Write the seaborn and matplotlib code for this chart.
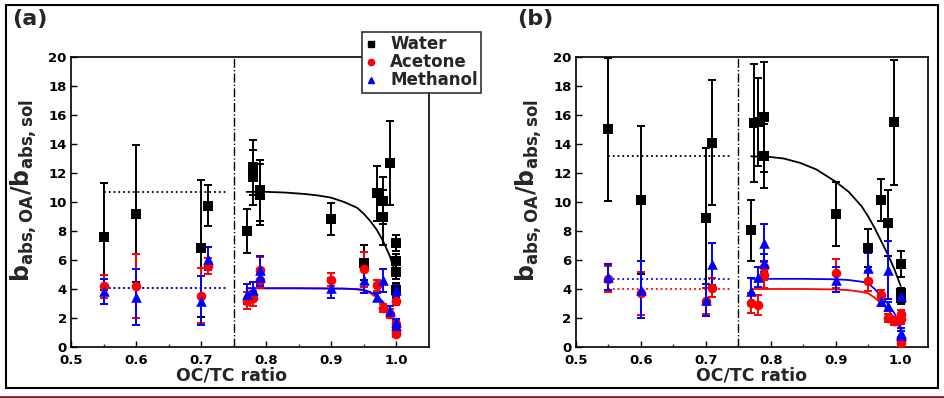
import numpy as np
import pandas as pd
import matplotlib
matplotlib.use("Agg")
import matplotlib.pyplot as plt
from matplotlib.lines import Line2D
from matplotlib.patches import Rectangle
import seaborn as sns

# ---------------- data ----------------
# panel (a)
water_a_x = [0.55, 0.60, 0.70, 0.71, 0.77, 0.78, 0.78, 0.79, 0.79, 0.90, 0.95, 0.97, 0.98, 0.98, 0.99, 1.00, 1.00, 1.00, 1.00]
water_a_y = [7.6, 9.2, 6.8, 9.75, 8.0, 12.4, 11.7, 10.8, 10.5, 8.8, 5.8, 10.6, 10.1, 8.95, 12.7, 7.2, 5.9, 5.2, 3.9]
water_a_e = [3.7, 4.7, 4.75, 1.4, 1.5, 1.9, 1.9, 2.1, 2.1, 1.1, 1.2, 1.9, 1.6, 1.9, 2.9, 0.55, 0.5, 0.5, 0.5]

acet_a_x = [0.55, 0.60, 0.70, 0.71, 0.77, 0.78, 0.79, 0.79, 0.90, 0.95, 0.97, 0.98, 0.99, 1.00, 1.00, 1.00, 1.00]
acet_a_y = [4.2, 4.2, 3.55, 5.6, 3.2, 3.35, 5.3, 4.6, 4.65, 5.35, 4.25, 2.7, 2.3, 3.2, 1.6, 1.05, 0.9]
acet_a_e = [0.8, 2.2, 1.9, 0.55, 0.6, 0.5, 0.9, 0.5, 0.45, 1.2, 0.4, 0.3, 0.3, 0.3, 0.2, 0.2, 0.2]

meth_a_x = [0.55, 0.60, 0.70, 0.71, 0.77, 0.78, 0.79, 0.79, 0.90, 0.95, 0.97, 0.98, 0.99, 1.00, 1.00, 1.00]
meth_a_y = [3.85, 3.45, 3.2, 6.1, 3.65, 3.9, 5.3, 4.8, 4.05, 4.6, 3.45, 4.6, 2.5, 3.9, 1.7, 1.5]
meth_a_e = [0.85, 1.95, 1.7, 0.8, 0.7, 0.6, 0.95, 0.6, 0.7, 0.9, 0.3, 0.8, 0.3, 0.35, 0.2, 0.2]

fit_water_a_x = [0.77, 0.80, 0.83, 0.86, 0.88, 0.90, 0.92, 0.94, 0.95, 0.96, 0.97, 0.98, 0.99, 1.00]
fit_water_a_y = [10.7, 10.7, 10.65, 10.55, 10.45, 10.3, 10.0, 9.6, 9.2, 8.7, 8.1, 7.3, 6.3, 5.0]
fit_acet_a_x = [0.77, 0.85, 0.92, 0.94, 0.95, 0.96, 0.97, 0.98, 0.99, 1.00]
fit_acet_a_y = [4.05, 4.05, 4.02, 3.97, 3.9, 3.72, 3.42, 2.92, 2.3, 1.5]
fit_meth_a_x = [0.77, 0.85, 0.92, 0.94, 0.95, 0.96, 0.97, 0.98, 0.99, 1.00]
fit_meth_a_y = [4.05, 4.05, 4.03, 3.99, 3.95, 3.8, 3.55, 3.1, 2.5, 1.6]
mean_a = {"Water": 10.7, "Acetone": 4.05, "Methanol": 4.05}

# panel (b)
water_b_x = [0.55, 0.60, 0.70, 0.71, 0.77, 0.775, 0.78, 0.79, 0.79, 0.90, 0.95, 0.97, 0.98, 0.99, 1.00, 1.00, 1.00]
water_b_y = [15.0, 10.15, 8.9, 14.1, 8.05, 15.45, 15.5, 15.85, 13.15, 9.15, 6.85, 10.15, 8.55, 15.5, 5.75, 3.7, 3.4]
water_b_e = [4.9, 5.1, 4.85, 4.3, 2.1, 4.1, 3.05, 3.8, 2.2, 2.2, 1.3, 1.45, 2.3, 4.3, 0.9, 0.4, 0.4]

acet_b_x = [0.55, 0.60, 0.70, 0.71, 0.77, 0.78, 0.79, 0.79, 0.90, 0.95, 0.97, 0.98, 0.99, 1.00, 1.00, 1.00, 1.00]
acet_b_y = [4.7, 3.7, 3.2, 4.1, 3.05, 2.9, 5.5, 4.95, 5.1, 4.55, 3.6, 2.0, 1.8, 2.25, 1.9, 0.5, 0.3]
acet_b_e = [0.9, 1.5, 0.9, 0.65, 0.7, 0.7, 0.9, 0.9, 1.0, 0.7, 0.3, 0.3, 0.3, 0.3, 0.3, 0.2, 0.2]

meth_b_x = [0.55, 0.60, 0.70, 0.71, 0.77, 0.78, 0.79, 0.79, 0.90, 0.95, 0.97, 0.98, 0.98, 1.00, 1.00, 1.00]
meth_b_y = [4.8, 3.95, 3.25, 5.75, 3.85, 4.85, 7.2, 5.8, 4.65, 5.45, 3.15, 5.3, 2.8, 3.5, 1.0, 0.8]
meth_b_e = [0.9, 1.95, 1.1, 1.45, 0.9, 0.7, 1.25, 0.6, 0.85, 1.0, 0.3, 2.0, 0.3, 0.4, 0.3, 0.3]

fit_water_b_x = [0.77, 0.80, 0.82, 0.845, 0.87, 0.90, 0.92, 0.94, 0.95, 0.96, 0.97, 0.98, 0.99, 1.00]
fit_water_b_y = [13.15, 13.1, 13.0, 12.7, 12.25, 11.4, 10.7, 9.7, 9.0, 8.2, 7.3, 6.4, 5.4, 4.2]
fit_acet_b_x = [0.77, 0.85, 0.90, 0.92, 0.94, 0.95, 0.96, 0.97, 0.98, 0.99, 1.00]
fit_acet_b_y = [4.0, 4.0, 3.97, 3.92, 3.8, 3.7, 3.4, 3.0, 2.6, 2.0, 1.2]
fit_meth_b_x = [0.77, 0.85, 0.90, 0.92, 0.94, 0.95, 0.96, 0.97, 0.98, 0.99, 1.00]
fit_meth_b_y = [4.7, 4.7, 4.67, 4.62, 4.5, 4.4, 4.0, 3.5, 3.0, 2.35, 1.4]
mean_b = {"Water": 13.2, "Acetone": 4.0, "Methanol": 4.7}

solvents = ["Water", "Acetone", "Methanol"]
colors = {"Water": "black", "Acetone": "#ff0000", "Methanol": "#0000ff"}
markers = {"Water": "s", "Acetone": "o", "Methanol": "^"}

# ---------------- style ----------------
sns.set_theme(style="ticks")
plt.rcParams["font.family"] = ["DejaVu Sans"]
plt.rcParams["font.weight"] = "bold"
plt.rcParams["mathtext.fontset"] = "dejavusans"
plt.rcParams["mathtext.default"] = "bf"

fig = plt.figure(figsize=(9.44, 3.98), dpi=100)
ax_a = fig.add_axes([71 / 944, 51 / 398, (429.3 - 71) / 944, 290 / 398])
ax_b = fig.add_axes([575.7 / 944, 51 / 398, (928 - 575.7) / 944, 290 / 398])

panels = [
    (ax_a, 1.051, [(water_a_x, water_a_y, water_a_e), (acet_a_x, acet_a_y, acet_a_e), (meth_a_x, meth_a_y, meth_a_e)],
     [(fit_water_a_x, fit_water_a_y), (fit_acet_a_x, fit_acet_a_y), (fit_meth_a_x, fit_meth_a_y)], mean_a, 0.449),
    (ax_b, 1.042, [(water_b_x, water_b_y, water_b_e), (acet_b_x, acet_b_y, acet_b_e), (meth_b_x, meth_b_y, meth_b_e)],
     [(fit_water_b_x, fit_water_b_y), (fit_acet_b_x, fit_acet_b_y), (fit_meth_b_x, fit_meth_b_y)], mean_b, 0.5),
]

for ax, xmax, pts, fits, means, xlab_pos in panels:
    ax.axvline(0.75, color="black", lw=1.0, ls="-.", zorder=1)
    for name, (fx, fy) in zip(solvents, fits):
        sns.lineplot(x=fx, y=fy, color=colors[name], lw=1.3, ax=ax, zorder=2)
        ax.hlines(means[name], 0.55, 0.74, colors=colors[name], linestyles=":", lw=1.3, zorder=2)
    for name, (px, py, pe) in zip(solvents, pts):
        ax.errorbar(px, py, yerr=pe, fmt="none", ecolor=colors[name], elinewidth=1.4,
                    capsize=3, capthick=1.4, zorder=3)
        sns.scatterplot(x=px, y=py, marker=markers[name], color=colors[name],
                        s=48 if name != "Methanol" else 58, linewidth=0, ax=ax, zorder=4)
    ax.set_xlim(0.5, xmax)
    ax.set_ylim(0, 20)
    ax.set_xticks([0.5, 0.6, 0.7, 0.8, 0.9, 1.0])
    ax.set_xticklabels(["0.5", "0.6", "0.7", "0.8", "0.9", "1.0"])
    ax.set_xticks([0.55, 0.65, 0.75, 0.85, 0.95], minor=True)
    ax.set_yticks(range(0, 21, 2))
    ax.tick_params(axis="both", which="major", direction="in", length=4, width=1,
                   labelsize=9.5, pad=3, colors="black")
    ax.tick_params(axis="x", which="major", pad=5)
    ax.tick_params(axis="x", which="minor", direction="in", length=2.5, width=1)
    for lab in ax.get_xticklabels() + ax.get_yticklabels():
        lab.set_fontweight("bold")
    for sp in ax.spines.values():
        sp.set_visible(True)
        sp.set_color("black")
        sp.set_linewidth(1.2)
    ax.set_xlabel("OC/TC ratio", fontsize=12.5, fontweight="bold")
    ax.xaxis.set_label_coords(xlab_pos, -0.068)
    ax.set_ylabel(r"$b_{abs,OA}/b_{abs,sol}$", fontsize=17)

ax_a.yaxis.set_label_coords(-0.09, 0.54)
ax_b.yaxis.set_label_coords(-0.09, 0.54)

fig.text(12 / 944, 1 - 9 / 398, "(a)", fontsize=16, fontweight="bold", va="top", ha="left")
fig.text(517 / 944, 1 - 9 / 398, "(b)", fontsize=16, fontweight="bold", va="top", ha="left")

handles = [Line2D([], [], ls="none", marker=markers[n], color=colors[n], markersize=4.5) for n in solvents]
leg = fig.legend(handles, solvents, loc="upper left", bbox_to_anchor=(362 / 944, 1 - 32 / 398),
                 frameon=True, fancybox=False, prop={"weight": "bold", "size": 12},
                 handlelength=0.7, handletextpad=0.8, labelspacing=0.0, borderpad=0.2,
                 borderaxespad=0)
leg.get_frame().set_edgecolor("#333333")
leg.get_frame().set_linewidth(1.2)
leg.get_frame().set_alpha(1)
leg.set_zorder(10)

# outer frame and bottom rule
fig.patches.append(Rectangle((6 / 944, 10 / 398), 932 / 944, 383 / 398, transform=fig.transFigure,
                             fill=False, edgecolor="black", lw=1.5))
fig.lines.append(Line2D([0, 1], [1.5 / 398, 1.5 / 398], transform=fig.transFigure,
                        color="#8b1a2b", lw=2))

fig.savefig("out.png", dpi=100)
